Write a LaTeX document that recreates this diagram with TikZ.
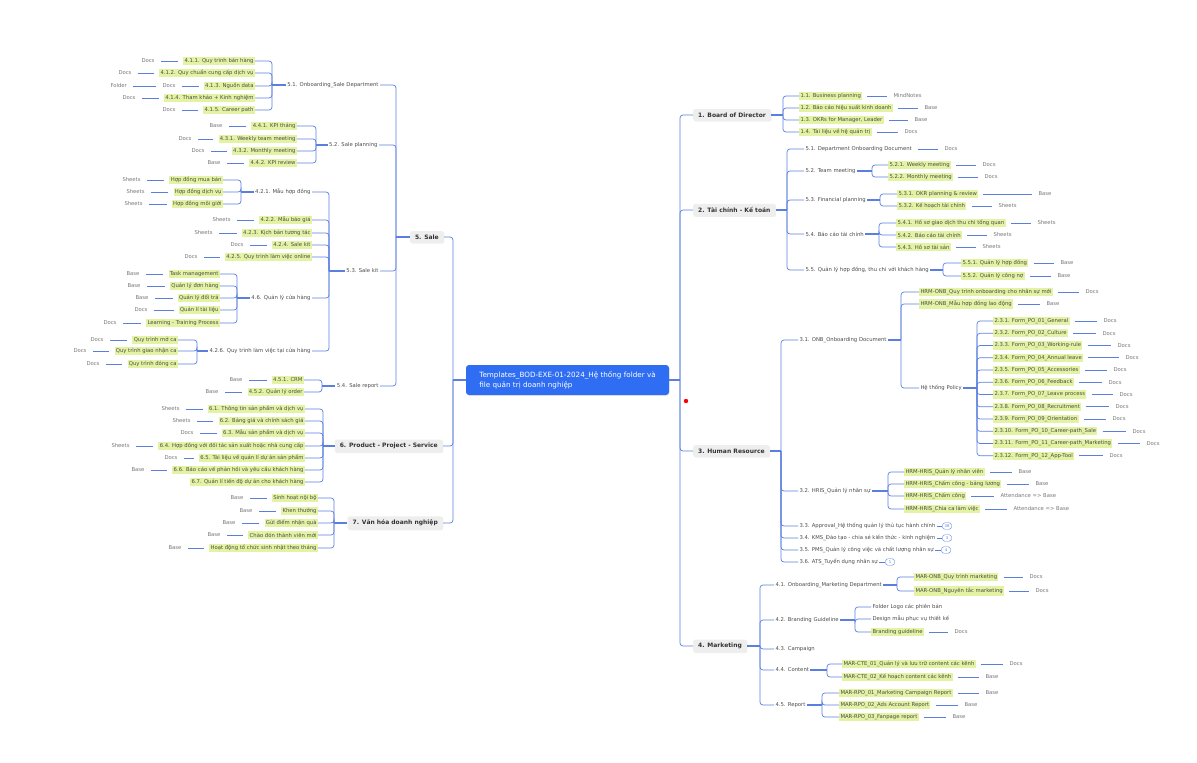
\documentclass[tikz,border=0pt]{standalone}
\usepackage{fontspec}
\setmainfont{DejaVu Sans}
\usepackage{xcolor}
\usetikzlibrary{positioning, shadows}

\definecolor{linkblue}{HTML}{5B7FDE}
\definecolor{hlgreen}{HTML}{E3F3A3}
\definecolor{rootblue}{HTML}{2F6EF2}
\definecolor{txtgray}{HTML}{4A4A4A}
\definecolor{leafgray}{HTML}{777777}
\definecolor{boxgray}{HTML}{EEEEEE}

\tikzset{
    base/.style={inner xsep=1.3pt, inner ysep=1.6pt, text=txtgray, font=\fontsize{5.3}{6}\selectfont},
    hl/.style={base, fill=hlgreen},
    plain/.style={base},
    leaf/.style={base, text=leafgray},
    mainbox/.style={fill=boxgray, rounded corners=2pt, text=black!80, inner xsep=5pt, inner ysep=3.5pt,
        font=\fontsize{6}{7}\selectfont\bfseries, drop shadow={opacity=0.12, shadow xshift=0.6pt, shadow yshift=-0.8pt}},
    rootbox/.style={fill=rootblue, text=white, rounded corners=3pt, align=left, minimum width=203pt,
        minimum height=30pt, font=\fontsize{7.2}{10}\selectfont, drop shadow={opacity=0.15, shadow xshift=0.6pt, shadow yshift=-1pt}},
    link/.style={draw=linkblue, line width=0.7pt, rounded corners=3pt},
    stub/.style={draw=linkblue, line width=1.5pt},
    leafline/.style={draw=linkblue, line width=0.6pt, shorten <=5pt, shorten >=5pt},
    badge/.style={draw=linkblue, fill=white, rounded corners=2.5pt, inner sep=0.8pt, minimum width=9pt,
        minimum height=6.5pt, font=\fontsize{3.8}{4}\selectfont, text=linkblue},
}

\begin{document}
\begin{tikzpicture}[x=1pt, y=-1pt]
    \useasboundingbox (0,0) rectangle (1197,763);

    % Root
    \node[rootbox] (root) at (567.5,380) {Templates\_BOD-EXE-01-2024\_Hệ thống folder và\\file quản trị doanh nghiệp};
    \coordinate (rs) at (680,380);
    \coordinate (ls) at (453,380);
    \draw[stub] (root.east) -- (rs);
    \draw[stub] (root.west) -- (ls);
    \fill[red] (686,401) circle (2.2);

    % Main branches
    \node[mainbox, anchor=west] (bod) at (693,115) {1. Board of Director};
    \node[mainbox, anchor=west] (fin) at (693,210) {2. Tài chính - Kế toán};
    \node[mainbox, anchor=west] (hr) at (693,451) {3. Human Resource};
    \node[mainbox, anchor=west] (mkt) at (693,646) {4. Marketing};
    \node[mainbox, anchor=east] (sale) at (444,237) {5. Sale};
    \node[mainbox, anchor=east] (prod) at (443,446) {6. Product - Project - Service};
    \node[mainbox, anchor=east] (cult) at (443,523) {7. Văn hóa doanh nghiệp};
    \foreach \m in {bod,fin,hr,mkt} \draw[link] (rs) |- (\m.west);
    \foreach \m in {sale,prod,cult} \draw[link] (ls) |- (\m.east);

    % 1. Board of Director
    \coordinate (bods) at (783,115);
    \draw[stub] (bod.east) -- (bods);
    \foreach \nn/\yy/\txt/\lx/\lf in {1/96/{1.1. Business planning}/892/MindNotes,
            2/108/{1.2. Báo cáo hiệu suất kinh doanh}/923/Base,
            3/120/{1.3. OKRs for Manager, Leader}/913/Base,
            4/132/{1.4. Tài liệu về hệ quản trị}/903/Docs} {
        \node[hl, anchor=west] (b\nn) at (799,\yy) {\txt};
        \node[leaf, anchor=west] (b\nn-l) at (\lx,\yy) {\lf};
        \draw[leafline] (b\nn) -- (b\nn-l);
        \draw[link] (bods) |- (b\nn.west);
    }

    % 2. Tai chinh - Ke toan
    \coordinate (fins) at (787,210);
    \draw[stub] (fin.east) -- (fins);
    \node[plain, anchor=west] (f1) at (804,149) {5.1. Department Onboarding Document};
    \node[plain, anchor=west] (f2) at (804,171) {5.2. Team meeting};
    \node[plain, anchor=west] (f3) at (804,200) {5.3. Financial planning};
    \node[plain, anchor=west] (f4) at (804,234) {5.4. Báo cáo tài chính};
    \node[plain, anchor=west] (f5) at (804,270) {5.5. Quản lý hợp đồng, thu chi với khách hàng};
    \foreach \c in {f1,f2,f3,f4,f5} \draw[link] (fins) |- (\c.west);
    \node[leaf, anchor=west] (f1-l) at (943,149) {Docs};
    \draw[leafline] (f1) -- (f1-l);

    \coordinate (f2s) at (872,171);
    \draw[stub] (f2.east) -- (f2s);
    \foreach \nn/\yy/\txt/\lx/\lf in {1/165/{5.2.1. Weekly meeting}/981/Docs, 2/177/{5.2.2. Monthly meeting}/983/Docs} {
        \node[hl, anchor=west] (f2\nn) at (888,\yy) {\txt};
        \node[leaf, anchor=west] (f2\nn-l) at (\lx,\yy) {\lf};
        \draw[leafline] (f2\nn) -- (f2\nn-l);
        \draw[link] (f2s) |- (f2\nn.west);
    }
    \coordinate (f3s) at (880,200);
    \draw[stub] (f3.east) -- (f3s);
    \foreach \nn/\yy/\txt/\lx/\lf in {1/194/{5.3.1. OKR planning \& review}/1037/Base, 2/206/{5.3.2. Kế hoạch tài chính}/997/Sheets} {
        \node[hl, anchor=west] (f3\nn) at (897,\yy) {\txt};
        \node[leaf, anchor=west] (f3\nn-l) at (\lx,\yy) {\lf};
        \draw[leafline] (f3\nn) -- (f3\nn-l);
        \draw[link] (f3s) |- (f3\nn.west);
    }
    \coordinate (f4s) at (879,234);
    \draw[stub] (f4.east) -- (f4s);
    \foreach \nn/\yy/\txt/\lx/\lf in {1/223/{5.4.1. Hồ sơ giao dịch thu chi tổng quan}/1036/Sheets,
            2/235/{5.4.2. Báo cáo tài chính}/992/Sheets, 3/247/{5.4.3. Hồ sơ tài sản}/981/Sheets} {
        \node[hl, anchor=west] (f4\nn) at (896,\yy) {\txt};
        \node[leaf, anchor=west] (f4\nn-l) at (\lx,\yy) {\lf};
        \draw[leafline] (f4\nn) -- (f4\nn-l);
        \draw[link] (f4s) |- (f4\nn.west);
    }
    \coordinate (f5s) at (943,270);
    \draw[stub] (f5.east) -- (f5s);
    \foreach \nn/\yy/\txt/\lx/\lf in {1/263/{5.5.1. Quản lý hợp đồng}/1059/Base, 2/276/{5.5.2. Quản lý công nợ}/1056/Base} {
        \node[hl, anchor=west] (f5\nn) at (961,\yy) {\txt};
        \node[leaf, anchor=west] (f5\nn-l) at (\lx,\yy) {\lf};
        \draw[leafline] (f5\nn) -- (f5\nn-l);
        \draw[link] (f5s) |- (f5\nn.west);
    }

    % 3. Human Resource
    \coordinate (hrs) at (781,451);
    \draw[stub] (hr.east) -- (hrs);
    \node[plain, anchor=west] (h1) at (798,340) {3.1. ONB\_Onboarding Document};
    \node[plain, anchor=west] (h2) at (798,491) {3.2. HRIS\_Quản lý nhân sự};
    \node[plain, anchor=west] (h3) at (798,526) {3.3. Approval\_Hệ thống quản lý thủ tục hành chính};
    \node[plain, anchor=west] (h4) at (798,538) {3.4. KMS\_Đào tạo - chia sẻ kiến thức - kinh nghiệm};
    \node[plain, anchor=west] (h5) at (798,550) {3.5. PMS\_Quản lý công việc và chất lượng nhân sự};
    \node[plain, anchor=west] (h6) at (798,562) {3.6. ATS\_Tuyển dụng nhân sự};
    \foreach \c in {h1,h2,h3,h4,h5,h6} \draw[link] (hrs) |- (\c.west);
    % badges
    \foreach \c/\bx/\num in {h3/947/38, h4/947/3, h5/946/4, h6/890/1} {
        \node[badge] (\c-b) at (\bx,0 |- \c) {\num};
        \draw[draw=linkblue, line width=0.5pt] (\c.east) -- (\c-b.west);
    }

    \coordinate (h1s) at (901,340);
    \draw[stub] (h1.east) -- (h1s);
    \node[hl, anchor=west] (ho1) at (919,292) {HRM-ONB\_Quy trình onboarding cho nhân sự mới};
    \node[hl, anchor=west] (ho2) at (919,304) {HRM-ONB\_Mẫu hợp đồng lao động};
    \node[plain, anchor=west] (ho3) at (919,388) {Hệ thống Policy};
    \node[leaf, anchor=west] (ho1-l) at (1084,292) {Docs};
    \node[leaf, anchor=west] (ho2-l) at (1045,304) {Base};
    \draw[leafline] (ho1) -- (ho1-l);
    \draw[leafline] (ho2) -- (ho2-l);
    \foreach \c in {ho1,ho2,ho3} \draw[link] (h1s) |- (\c.west);

    \coordinate (pos) at (977,388);
    \draw[stub] (ho3.east) -- (pos);
    \foreach \nn/\txt/\lx in {1/{01\_General}/1102, 2/{02\_Culture}/1101, 3/{03\_Working-rule}/1116,
            4/{04\_Annual leave}/1124, 5/{05\_Accessories}/1112, 6/{06\_Feedback}/1107,
            7/{07\_Leave process}/1118, 8/{08\_Recruitment}/1114, 9/{09\_Orientation}/1111,
            10/{10\_Career-path\_Sale}/1131, 11/{11\_Career-path\_Marketing}/1145, 12/{12\_App-Tool}/1108} {
        \node[hl, anchor=west] (po\nn) at (993,321+12.25*\nn-12.25) {2.3.\nn. Form\_PO\_\txt};
        \node[leaf, anchor=west] (po\nn-l) at (\lx,321+12.25*\nn-12.25) {Docs};
        \draw[leafline] (po\nn) -- (po\nn-l);
        \draw[link] (pos) |- (po\nn.west);
    }

    \coordinate (h2s) at (888,491);
    \draw[stub] (h2.east) -- (h2s);
    \foreach \nn/\yy/\txt/\lx/\lf in {1/472/{HRM-HRIS\_Quản lý nhân viên}/1017/Base,
            2/484/{HRM-HRIS\_Chấm công - bảng lương}/1034/Base,
            3/496/{HRM-HRIS\_Chấm công}/999/{Attendance => Base},
            4/509/{HRM-HRIS\_Chia ca làm việc}/1012/{Attendance => Base}} {
        \node[hl, anchor=west] (hi\nn) at (904,\yy) {\txt};
        \node[leaf, anchor=west] (hi\nn-l) at (\lx,\yy) {\lf};
        \draw[leafline] (hi\nn) -- (hi\nn-l);
        \draw[link] (h2s) |- (hi\nn.west);
    }

    % 4. Marketing
    \coordinate (mkts) at (760,646);
    \draw[stub] (mkt.east) -- (mkts);
    \node[plain, anchor=west] (m1) at (774,585) {4.1. Onboarding\_Marketing Department};
    \node[plain, anchor=west] (m2) at (774,620) {4.2. Branding Guideline};
    \node[plain, anchor=west] (m3) at (774,649) {4.3. Campaign};
    \node[plain, anchor=west] (m4) at (774,670) {4.4. Content};
    \node[plain, anchor=west] (m5) at (774,705) {4.5. Report};
    \foreach \c in {m1,m2,m3,m4,m5} \draw[link] (mkts) |- (\c.west);

    \coordinate (m1s) at (897,585);
    \draw[stub] (m1.east) -- (m1s);
    \foreach \nn/\yy/\txt/\lx/\lf in {1/577/{MAR-ONB\_Quy trình marketing}/1028/Docs, 2/591/{MAR-ONB\_Nguyên tắc marketing}/1034/Docs} {
        \node[hl, anchor=west] (m1\nn) at (914,\yy) {\txt};
        \node[leaf, anchor=west] (m1\nn-l) at (\lx,\yy) {\lf};
        \draw[leafline] (m1\nn) -- (m1\nn-l);
        \draw[link] (m1s) |- (m1\nn.west);
    }
    \coordinate (m2s) at (855,620);
    \draw[stub] (m2.east) -- (m2s);
    \node[plain, anchor=west] (m21) at (871,607) {Folder Logo các phiên bản};
    \node[plain, anchor=west] (m22) at (871,619) {Design mẫu phục vụ thiết kế};
    \node[hl, anchor=west] (m23) at (871,632) {Branding guideline};
    \node[leaf, anchor=west] (m23-l) at (953,632) {Docs};
    \draw[leafline] (m23) -- (m23-l);
    \foreach \c in {m21,m22,m23} \draw[link] (m2s) |- (\c.west);

    \coordinate (m4s) at (827,670);
    \draw[stub] (m4.east) -- (m4s);
    \foreach \nn/\yy/\txt/\lx/\lf in {1/664/{MAR-CTE\_01\_Quản lý và lưu trữ content các kênh}/1008/Docs,
            2/677/{MAR-CTE\_02\_Kế hoạch content các kênh}/984/Base} {
        \node[hl, anchor=west] (m4\nn) at (842,\yy) {\txt};
        \node[leaf, anchor=west] (m4\nn-l) at (\lx,\yy) {\lf};
        \draw[leafline] (m4\nn) -- (m4\nn-l);
        \draw[link] (m4s) |- (m4\nn.west);
    }
    \coordinate (m5s) at (822,705);
    \draw[stub] (m5.east) -- (m5s);
    \foreach \nn/\yy/\txt/\lx/\lf in {1/693/{MAR-RPO\_01\_Marketing Campaign Report}/984/Base,
            2/705/{MAR-RPO\_02\_Ads Account Report}/963/Base, 3/717/{MAR-RPO\_03\_Fanpage report}/951/Base} {
        \node[hl, anchor=west] (m5\nn) at (839,\yy) {\txt};
        \node[leaf, anchor=west] (m5\nn-l) at (\lx,\yy) {\lf};
        \draw[leafline] (m5\nn) -- (m5\nn-l);
        \draw[link] (m5s) |- (m5\nn.west);
    }

    % 5. Sale
    \coordinate (sales) at (396,237);
    \draw[stub] (sale.west) -- (sales);
    \node[plain, anchor=east] (s1) at (380,85) {5.1. Onboarding\_Sale Department};
    \node[plain, anchor=east] (s2) at (379,145) {5.2. Sale planning};
    \node[plain, anchor=east] (s3) at (380,271) {5.3. Sale kit};
    \node[plain, anchor=east] (s4) at (380,386) {5.4. Sale report};
    \foreach \c in {s1,s2,s3,s4} \draw[link] (sales) |- (\c.east);

    \coordinate (s1s) at (272,85);
    \draw[stub] (s1.west) -- (s1s);
    \foreach \nn/\yy/\txt/\lx/\lf in {1/61/{4.1.1. Quy trình bán hàng}/140/Docs,
            2/73/{4.1.2. Quy chuẩn cung cấp dịch vụ}/117/Docs, 3/86/{4.1.3. Nguồn data}/161/Docs,
            4/98/{4.1.4. Tham khảo + Kinh nghiệm}/121/Docs, 5/110/{4.1.5. Career path}/161/Docs} {
        \node[hl, anchor=east] (s1\nn) at (255,\yy) {\txt};
        \node[leaf, anchor=west] (s1\nn-l) at (\lx,\yy) {\lf};
        \draw[leafline] (s1\nn) -- (s1\nn-l);
        \draw[link] (s1s) |- (s1\nn.east);
    }
    \node[leaf, anchor=west] (s13-f) at (109,86) {Folder};
    \draw[leafline] (s13-l) -- (s13-f);

    \coordinate (s2s) at (316,145);
    \draw[stub] (s2.west) -- (s2s);
    \foreach \nn/\yy/\txt/\lx/\lf in {1/126/{4.4.1. KPI tháng}/208/Base, 2/139/{4.3.1. Weekly team meeting}/177/Docs,
            3/151/{4.3.2. Monthly meeting}/190/Docs, 4/163/{4.4.2. KPI review}/206/Base} {
        \node[hl, anchor=east] (s2\nn) at (297,\yy) {\txt};
        \node[leaf, anchor=west] (s2\nn-l) at (\lx,\yy) {\lf};
        \draw[leafline] (s2\nn) -- (s2\nn-l);
        \draw[link] (s2s) |- (s2\nn.east);
    }

    \coordinate (s3s) at (329,271);
    \draw[stub] (s3.west) -- (s3s);
    \node[plain, anchor=east] (k1) at (312,192) {4.2.1. Mẫu hợp đồng};
    \node[plain, anchor=east] (k6) at (312,298) {4.6. Quản lý cửa hàng};
    \node[plain, anchor=east] (k7) at (312,351) {4.2.6. Quy trình làm việc tại cửa hàng};
    \foreach \nn/\yy/\txt/\lx/\lf in {2/220/{4.2.2. Mẫu báo giá}/211/Sheets, 3/233/{4.2.3. Kịch bản tương tác}/193/Sheets,
            4/245/{4.2.4. Sale kit}/229/Docs, 5/257/{4.2.5. Quy trình làm việc online}/183/Docs} {
        \node[hl, anchor=east] (k\nn) at (312,\yy) {\txt};
        \node[leaf, anchor=west] (k\nn-l) at (\lx,\yy) {\lf};
        \draw[leafline] (k\nn) -- (k\nn-l);
    }
    \foreach \c in {k1,k2,k3,k4,k5,k6,k7} \draw[link] (s3s) |- (\c.east);

    \coordinate (k1s) at (241,192);
    \draw[stub] (k1.west) -- (k1s);
    \foreach \nn/\yy/\txt/\lx in {1/180/{Hợp đồng mua bán}/121, 2/192/{Hợp đồng dịch vụ}/125, 3/204/{Hợp đồng môi giới}/123} {
        \node[hl, anchor=east] (k1\nn) at (223,\yy) {\txt};
        \node[leaf, anchor=west] (k1\nn-l) at (\lx,\yy) {Sheets};
        \draw[leafline] (k1\nn) -- (k1\nn-l);
        \draw[link] (k1s) |- (k1\nn.east);
    }
    \coordinate (k6s) at (237,298);
    \draw[stub] (k6.west) -- (k6s);
    \foreach \nn/\yy/\txt/\lx/\lf in {1/274/{Task management}/125/Base, 2/286/{Quản lý đơn hàng}/126/Base,
            3/298/{Quản lý đổi trả}/134/Base, 4/310/{Quản lí tài liệu}/133/Docs, 5/323/{Learning - Training Process}/102/Docs} {
        \node[hl, anchor=east] (k6\nn) at (220,\yy) {\txt};
        \node[leaf, anchor=west] (k6\nn-l) at (\lx,\yy) {\lf};
        \draw[leafline] (k6\nn) -- (k6\nn-l);
        \draw[link] (k6s) |- (k6\nn.east);
    }
    \coordinate (k7s) at (197,351);
    \draw[stub] (k7.west) -- (k7s);
    \foreach \nn/\yy/\txt/\lx in {1/340/{Quy trình mở ca}/89, 2/351/{Quy trình giao nhận ca}/72, 3/364/{Quy trình đóng ca}/85} {
        \node[hl, anchor=east] (k7\nn) at (178,\yy) {\txt};
        \node[leaf, anchor=west] (k7\nn-l) at (\lx,\yy) {Docs};
        \draw[leafline] (k7\nn) -- (k7\nn-l);
        \draw[link] (k7s) |- (k7\nn.east);
    }

    \coordinate (s4s) at (322,386);
    \draw[stub] (s4.west) -- (s4s);
    \foreach \nn/\yy/\txt/\lx in {1/380/{4.5.1. CRM}/228, 2/392/{4.5.2. Quản lý order}/204} {
        \node[hl, anchor=east] (s4\nn) at (304,\yy) {\txt};
        \node[leaf, anchor=west] (s4\nn-l) at (\lx,\yy) {Base};
        \draw[leafline] (s4\nn) -- (s4\nn-l);
        \draw[link] (s4s) |- (s4\nn.east);
    }

    % 6. Product - Project - Service
    \coordinate (prods) at (323,446);
    \draw[stub] (prod.west) -- (prods);
    \foreach \nn/\yy/\txt/\lx/\lf in {1/409/{6.1. Thông tin sản phẩm và dịch vụ}/160/Sheets,
            2/421/{6.2. Bảng giá và chính sách giá}/171/Sheets, 3/433/{6.3. Mẫu sản phẩm và dịch vụ}/179/Docs,
            4/446/{6.4. Hợp đồng với đối tác sản xuất hoặc nhà cung cấp}/110/Sheets,
            5/458/{6.5. Tài liệu về quản lí dự án sản phẩm}/163/Docs,
            6/470/{6.6. Báo cáo về phản hồi và yêu cầu khách hàng}/130/Base} {
        \node[hl, anchor=east] (p\nn) at (305,\yy) {\txt};
        \node[leaf, anchor=west] (p\nn-l) at (\lx,\yy) {\lf};
        \draw[leafline] (p\nn) -- (p\nn-l);
        \draw[link] (prods) |- (p\nn.east);
    }
    \node[hl, anchor=east] (p7) at (305,482) {6.7. Quản lí tiến độ dự án cho khách hàng};
    \draw[link] (prods) |- (p7.east);

    % 7. Van hoa doanh nghiep
    \coordinate (cults) at (334,523);
    \draw[stub] (cult.west) -- (cults);
    \foreach \nn/\yy/\txt/\lx in {1/498/{Sinh hoạt nội bộ}/229, 2/511/{Khen thưởng}/238, 3/523/{Gửi điểm nhận quà}/221,
            4/535/{Chào đón thành viên mới}/206, 5/548/{Hoạt động tổ chức sinh nhật theo tháng}/167} {
        \node[hl, anchor=east] (c\nn) at (318,\yy) {\txt};
        \node[leaf, anchor=west] (c\nn-l) at (\lx,\yy) {Base};
        \draw[leafline] (c\nn) -- (c\nn-l);
        \draw[link] (cults) |- (c\nn.east);
    }
\end{tikzpicture}
\end{document}
